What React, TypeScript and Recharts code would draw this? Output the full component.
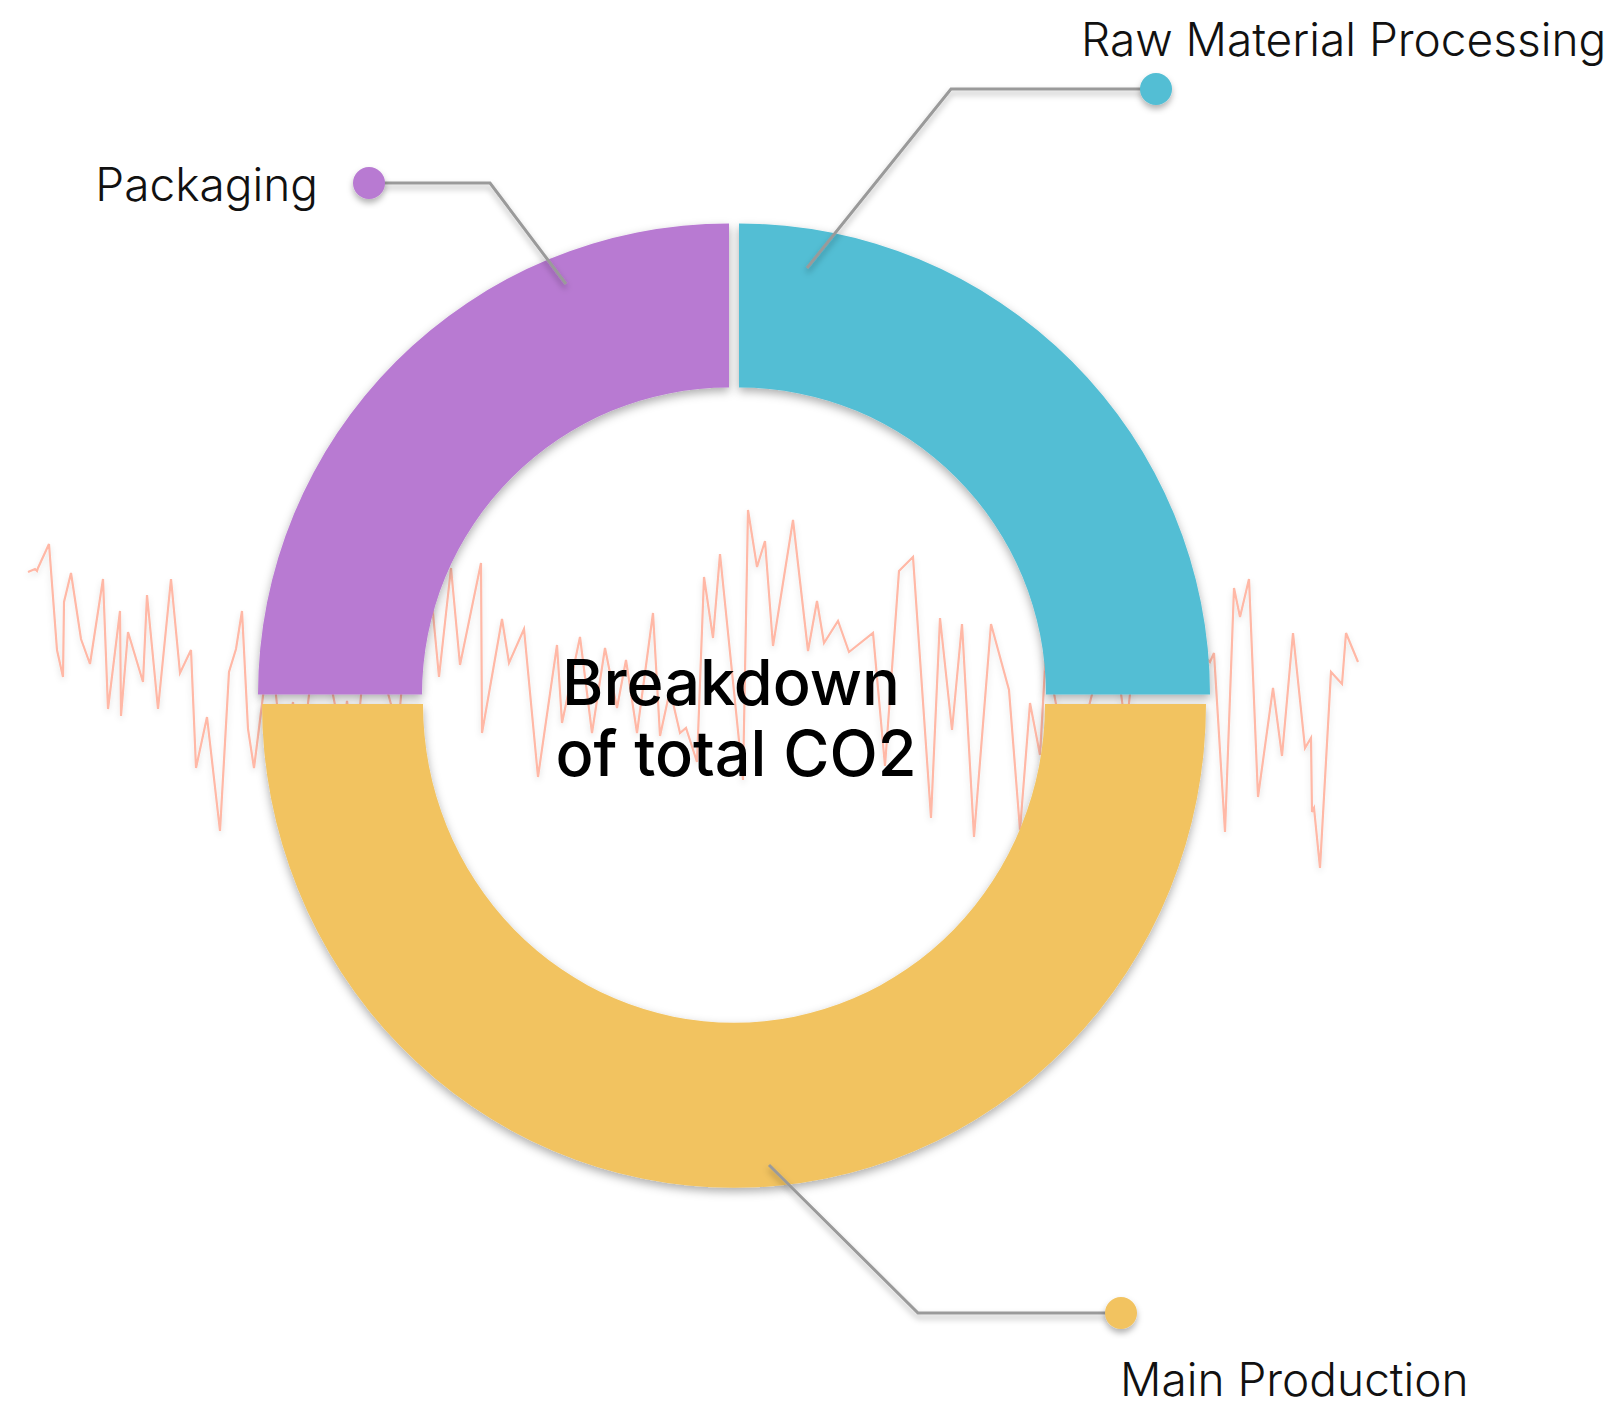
import React from 'react';
import { PieChart, Pie, Sector, LineChart, Line, XAxis, YAxis, Label } from 'recharts';

// ---------- data ----------
const categories = ['Raw Material Processing', 'Packaging', 'Main Production'];
const shares = [25, 25, 50];
const colors = ['#53BED4', '#B87AD2', '#F2C360'];

const centerTitle = ['Breakdown', 'of total CO2'];

// background noise series (x in arbitrary time units, y in arbitrary value units)
const noiseT = [
  0.0, 0.7, 0.9, 1.0, 2.1, 2.9, 3.5, 3.6, 4.3, 5.3, 6.2, 7.5, 8.0, 9.2, 9.3, 10.0, 11.5, 11.9, 13.0, 14.3,
  15.2, 16.3, 16.8, 17.9, 19.2, 20.1, 20.8, 21.4, 22.0, 22.6, 24.2, 25.5, 26.5, 27.2, 29.0, 31.4, 31.9, 32.7, 34.0, 37.0,
  37.8, 40.0, 41.1, 42.3, 43.2, 45.3, 45.4, 47.4, 48.1, 49.6, 51.0, 52.9, 53.4, 55.2, 56.4, 57.7, 58.9, 59.8, 60.9, 62.5,
  63.2, 64.2, 65.2, 65.8, 66.9, 67.6, 68.5, 69.2, 71.5, 72.0, 72.9, 73.7, 74.5, 76.5, 78.0, 78.9, 79.6, 81.0, 82.1, 84.5,
  85.7, 87.1, 88.5, 90.3, 91.2, 92.4, 93.4, 94.6, 96.3, 98.1, 99.2, 100.2, 101.2, 101.8, 104.2, 107.8, 108.7, 109.8, 110.8, 113.7,
  116.2, 118.2, 118.6, 119.7, 120.6, 121.2, 122.1, 123.0, 124.5, 125.4, 126.5, 127.7, 128.3, 128.4, 128.6, 129.2, 130.3, 131.4, 131.8, 133.0,
];
const noiseV = [
  30.8, 31.1, 30.9, 31.2, 33.6, 23.0, 20.3, 27.8, 30.7, 24.1, 21.6, 30.1, 17.1, 26.9, 16.4, 24.8, 19.8, 28.5, 17.1, 30.1,
  20.7, 23.0, 11.2, 16.3, 4.9, 20.8, 23.1, 26.9, 15.1, 11.2, 24.0, 12.0, 17.8, 11.0, 26.0, 14.0, 17.9, 12.0, 26.0, 15.0,
  24.0, 32.0, 20.3, 31.2, 21.5, 31.7, 14.7, 26.1, 21.7, 25.1, 10.3, 23.5, 15.7, 24.3, 14.7, 23.2, 17.2, 22.0, 14.7, 26.7,
  14.4, 19.0, 14.7, 15.2, 11.8, 30.3, 24.2, 32.6, 10.0, 37.0, 31.3, 33.9, 23.4, 36.0, 22.9, 27.9, 23.7, 25.9, 22.8, 24.7,
  11.4, 30.9, 32.3, 6.2, 26.2, 15.0, 25.6, 4.3, 25.6, 19.0, 5.0, 17.7, 12.5, 23.0, 10.0, 24.0, 23.0, 15.0, 24.0, 29.0,
  24.0, 21.8, 22.7, 4.8, 29.2, 26.3, 30.1, 8.3, 19.2, 12.4, 24.7, 13.2, 14.2, 6.8, 7.2, 1.2, 20.8, 19.6, 24.7, 21.8,
];

const pieData = categories.map((name, i) => ({ name, value: shares[i] }));
const noiseData = noiseT.map((t, i) => ({ t, v: noiseV[i] }));

// ---------- layout / style ----------
const W = 1612;
const H = 1414;
const CX = 734;
const CY = 704;
const FONT = 'Inter, "Noto Sans", sans-serif';

// per-slice visual offsets (exploded look)
type SliceStyle = { dx: number; dy: number; dIn: number; dOut: number; sy: number };
const SLICE_STYLE: Record<string, SliceStyle> = {
  'Raw Material Processing': { dx: 5, dy: -9.5, dIn: 0, dOut: 0, sy: 1 },
  Packaging: { dx: -5, dy: -9.5, dIn: 0, dOut: 0, sy: 1 },
  'Main Production': { dx: 0, dy: 0, dIn: 4, dOut: 1, sy: 1.025 },
};

type LabelLayout = { path: number[][]; dot: number[]; text: number[]; anchor: 'start' | 'end' };
const LABEL_LAYOUT: Record<string, LabelLayout> = {
  'Raw Material Processing': { path: [[807, 268], [951, 89], [1156, 89]], dot: [1156, 89], text: [1081, 56], anchor: 'start' },
  Packaging: { path: [[566, 284], [490, 183], [369, 183]], dot: [369, 183], text: [318, 201], anchor: 'end' },
  'Main Production': { path: [[769, 1165], [918, 1313], [1121, 1313]], dot: [1121, 1313], text: [1120, 1396], anchor: 'start' },
};

const colorOf = (name: string) => colors[categories.indexOf(name)] ?? '#ccc';

const SliceShape = (props: any) => {
  const name = props.name ?? props.payload?.name;
  const st = SLICE_STYLE[name] ?? { dx: 0, dy: 0, dIn: 0, dOut: 0, sy: 1 };
  const cx = props.cx + st.dx;
  const cy = props.cy + st.dy;
  return (
    <g filter="url(#sliceShadow)">
      <g transform={`translate(${cx} ${cy}) scale(1 ${st.sy}) translate(${-cx} ${-cy})`}>
        <Sector
          cx={cx}
          cy={cy}
          innerRadius={props.innerRadius + st.dIn}
          outerRadius={props.outerRadius + st.dOut}
          startAngle={props.startAngle}
          endAngle={props.endAngle}
          fill={colorOf(name)}
          stroke="none"
        />
      </g>
    </g>
  );
};

const renderLabel = (props: any) => {
  const name = props.name ?? props.payload?.name;
  const lay = LABEL_LAYOUT[name];
  if (!lay) return null;
  return (
    <g key={`lbl-${name}`}>
      <polyline
        points={lay.path.map((p) => p.join(',')).join(' ')}
        fill="none"
        stroke="#9A9A9A"
        strokeWidth={3}
        filter="url(#softShadow)"
      />
      <circle cx={lay.dot[0]} cy={lay.dot[1]} r={16} fill={colorOf(name)} filter="url(#softShadow)" />
      <text
        x={lay.text[0]}
        y={lay.text[1]}
        textAnchor={lay.anchor}
        fontSize={46}
        fontWeight={300}
        fill="#111111"
        fontFamily={FONT}
      >
        {name}
      </text>
    </g>
  );
};

const CenterTitle = (p: any) => {
  const vb = p?.viewBox ?? {};
  const x = vb.cx ?? CX;
  const y = vb.cy ?? CY;
  return (
    <text textAnchor="middle" fontSize={63} fontWeight={500} fill="#000" fontFamily={FONT}>
      <tspan x={x - 3} y={y + 1}>{centerTitle[0]}</tspan>
      <tspan x={x + 2} y={y + 72}>{centerTitle[1]}</tspan>
    </text>
  );
};

export default function App() {
  return (
    <div style={{ position: 'absolute', left: 0, top: 0, width: W, height: H, background: '#fff', fontFamily: FONT }}>
      <div style={{ position: 'absolute', left: 0, top: 0 }}>
        <LineChart width={W} height={H} data={noiseData} margin={{ top: 500, right: W - 1358, bottom: H - 880, left: 28 }}>
          <defs>
            <filter id="lineShadow" x="-10%" y="-10%" width="120%" height="130%">
              <feDropShadow dx="0" dy="3" stdDeviation="3" floodColor="#000" floodOpacity="0.12" />
            </filter>
          </defs>
          <XAxis dataKey="t" type="number" domain={[0, 133]} hide />
          <YAxis type="number" domain={[0, 38]} hide />
          <Line
            dataKey="v"
            type="linear"
            stroke="#FFB8A6"
            strokeWidth={2.2}
            dot={false}
            activeDot={false}
            isAnimationActive={false}
            filter="url(#lineShadow)"
          />
        </LineChart>
      </div>
      <div style={{ position: 'absolute', left: 0, top: 0 }}>
        <PieChart width={W} height={H} margin={{ top: 0, right: 0, bottom: 0, left: 0 }}>
          <defs>
            <filter id="sliceShadow" x="-20%" y="-20%" width="140%" height="140%">
              <feDropShadow dx="0" dy="4" stdDeviation="5" floodColor="#000" floodOpacity="0.32" />
            </filter>
            <filter id="softShadow" x="-30%" y="-30%" width="160%" height="160%">
              <feDropShadow dx="0" dy="4" stdDeviation="3" floodColor="#000" floodOpacity="0.3" />
            </filter>
          </defs>
          <Pie
            data={pieData}
            dataKey="value"
            nameKey="name"
            cx={CX}
            cy={CY}
            innerRadius={307}
            outerRadius={471}
            startAngle={0}
            endAngle={360}
            paddingAngle={0}
            stroke="none"
            shape={SliceShape}
            inactiveShape={SliceShape}
            activeShape={SliceShape}
            label={renderLabel}
            labelLine={false}
            isAnimationActive={false}
          >
            <Label position="center" content={CenterTitle} />
          </Pie>
        </PieChart>
      </div>
    </div>
  );
}
